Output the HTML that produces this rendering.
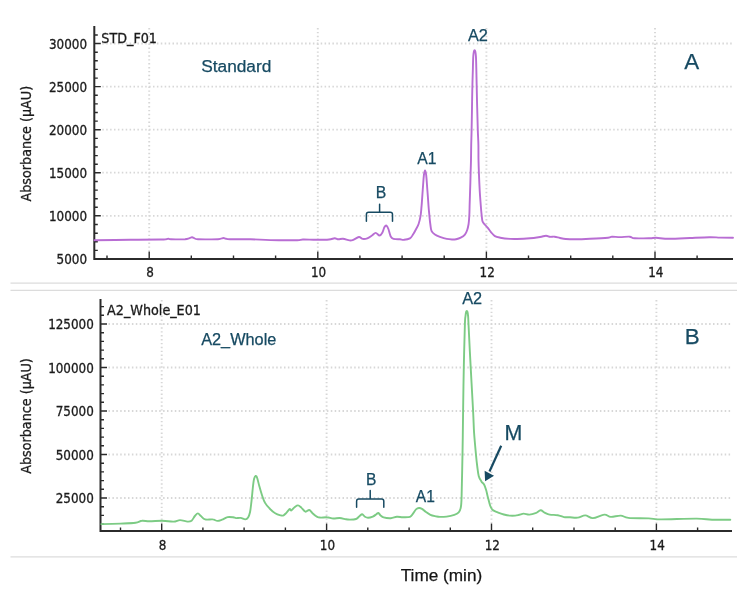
<!DOCTYPE html>
<html lang="en"><head><meta charset="utf-8"><title>Chromatograms</title>
<style>
html,body{margin:0;padding:0;background:#fff;}
body{width:750px;height:591px;overflow:hidden;}
svg{display:block;}
text{font-family:"Liberation Sans", Arial, sans-serif;}
.tk{font-family:"DejaVu Sans Condensed", "DejaVu Sans", "Liberation Sans", sans-serif;font-stretch:condensed;font-size:13.3px;fill:#1b1b1b;stroke:#1b1b1b;stroke-width:.3px;}
.nm{font-family:"DejaVu Sans Condensed", "DejaVu Sans", "Liberation Sans", sans-serif;font-stretch:condensed;font-size:14.2px;fill:#1b1b1b;stroke:#1b1b1b;stroke-width:.3px;}
.an{fill:#174a62;stroke:#174a62;stroke-width:.25px;}
.gh{stroke:#d7d7d7;stroke-width:1.8;stroke-dasharray:1.5 2.4;fill:none;}
.gv{stroke:#d7d7d7;stroke-width:1.9;stroke-dasharray:1.4 2.5;fill:none;}
.ax{stroke:#2b2b2b;stroke-width:2;fill:none;}
.t{stroke:#2a2a2a;stroke-width:1.4;fill:none;}
.sep{stroke:#dcdcdc;stroke-width:1.3;}
.br{stroke:#174a62;stroke-width:1.5;fill:none;stroke-linecap:round;stroke-linejoin:round;}
</style></head><body>
<svg width="750" height="591" viewBox="0 0 750 591">
<rect width="750" height="591" fill="#fff"/>
<line class="sep" x1="10.5" x2="737" y1="283.1" y2="283.1"/>
<line class="sep" x1="10.5" x2="737" y1="290.4" y2="290.4"/>
<line class="sep" x1="10.5" x2="737" y1="556.8" y2="556.8"/>
<line class="gh" x1="102.3" x2="733.0" y1="43.5" y2="43.5"/>
<line class="gh" x1="102.3" x2="733.0" y1="86.6" y2="86.6"/>
<line class="gh" x1="102.3" x2="733.0" y1="129.7" y2="129.7"/>
<line class="gh" x1="102.3" x2="733.0" y1="172.7" y2="172.7"/>
<line class="gh" x1="102.3" x2="733.0" y1="215.8" y2="215.8"/>
<line class="gh" x1="102.3" x2="733.0" y1="258.9" y2="258.9"/>
<line class="gv" x1="149.2" x2="149.2" y1="28.0" y2="251.0"/>
<line class="gv" x1="317.8" x2="317.8" y1="28.0" y2="251.0"/>
<line class="gv" x1="486.4" x2="486.4" y1="28.0" y2="251.0"/>
<line class="gv" x1="655.0" x2="655.0" y1="28.0" y2="251.0"/>
<path class="ax" d="M94.3 26.0V259.0H733.0"/>
<path class="t" d="M94.3 43.5h6.5M94.3 86.6h6.5M94.3 129.7h6.5M94.3 172.7h6.5M94.3 215.8h6.5M94.3 258.9h6.5M94.3 250.4h3.5M94.3 241.8h3.5M94.3 233.2h3.5M94.3 224.5h3.5M94.3 207.3h3.5M94.3 198.7h3.5M94.3 190.1h3.5M94.3 181.5h3.5M94.3 164.2h3.5M94.3 155.6h3.5M94.3 147.0h3.5M94.3 138.4h3.5M94.3 121.1h3.5M94.3 112.5h3.5M94.3 103.9h3.5M94.3 95.3h3.5M94.3 78.1h3.5M94.3 69.4h3.5M94.3 60.8h3.5M94.3 52.2h3.5M94.3 35.0h3.5M149.2 259.0v-7.5M317.8 259.0v-7.5M486.4 259.0v-7.5M655.0 259.0v-7.5M107.0 259.0v-3.5M191.3 259.0v-3.5M233.5 259.0v-3.5M275.6 259.0v-3.5M359.9 259.0v-3.5M402.1 259.0v-3.5M444.2 259.0v-3.5M528.5 259.0v-3.5M570.7 259.0v-3.5M612.8 259.0v-3.5M697.1 259.0v-3.5"/>
<text class="tk" text-anchor="end" x="87.0" y="48.5">30000</text>
<text class="tk" text-anchor="end" x="87.0" y="91.6">25000</text>
<text class="tk" text-anchor="end" x="87.0" y="134.7">20000</text>
<text class="tk" text-anchor="end" x="87.0" y="177.7">15000</text>
<text class="tk" text-anchor="end" x="87.0" y="220.8">10000</text>
<text class="tk" text-anchor="end" x="87.0" y="263.9">5000</text>
<text class="tk" text-anchor="middle" x="150.0" y="277.3">8</text>
<text class="tk" text-anchor="middle" x="318.6" y="277.3">10</text>
<text class="tk" text-anchor="middle" x="487.2" y="277.3">12</text>
<text class="tk" text-anchor="middle" x="655.8" y="277.3">14</text>
<path d="M94.5 240.2C100.4 240.1 119.1 239.9 130.0 239.8C140.9 239.7 154.0 239.6 160.0 239.5C166.0 239.4 164.6 239.5 166.0 239.3C167.4 239.2 167.7 238.6 168.5 238.6C169.3 238.6 168.2 239.2 171.0 239.3C173.8 239.4 182.0 239.3 185.0 239.2C188.0 239.0 187.8 238.7 189.0 238.4C190.2 238.1 191.0 237.2 192.0 237.2C193.0 237.2 194.0 238.2 195.0 238.6C196.0 238.9 194.2 239.2 198.0 239.3C201.8 239.4 214.2 239.3 218.0 239.2C221.8 239.1 220.1 238.8 221.0 238.6C221.9 238.4 222.7 238.0 223.5 238.0C224.3 238.0 224.9 238.6 226.0 238.8C227.1 239.0 226.0 239.2 230.0 239.3C234.0 239.4 245.0 239.2 250.0 239.3C255.0 239.4 255.2 239.4 260.0 239.6C264.8 239.8 272.5 240.1 278.7 240.2C284.9 240.3 293.3 240.3 297.3 240.2C301.3 240.1 299.8 239.6 302.9 239.5C306.0 239.4 311.6 239.8 316.0 239.8C320.4 239.8 325.9 239.8 329.0 239.5C332.1 239.2 333.1 238.3 334.7 238.3C336.3 238.3 337.0 239.2 338.4 239.3C339.8 239.4 341.1 238.5 343.0 238.7C344.9 238.9 347.9 240.2 349.6 240.4C351.3 240.6 351.8 240.4 353.3 239.8C354.9 239.2 357.3 237.2 358.9 237.0C360.5 236.8 361.3 238.7 362.7 238.9C364.1 239.1 365.8 238.9 367.3 238.3C368.9 237.7 370.6 236.4 372.0 235.5C373.4 234.6 374.4 232.9 375.7 232.9C376.9 232.9 378.4 235.5 379.5 235.5C380.6 235.5 381.5 234.1 382.3 232.7C383.1 231.3 383.8 228.3 384.5 227.1C385.2 225.9 385.8 225.3 386.4 225.6C387.0 225.9 387.7 227.2 388.4 229.0C389.1 230.8 389.8 234.8 390.7 236.5C391.6 238.2 391.9 238.4 393.5 238.9C395.1 239.4 398.2 239.2 400.0 239.3C401.8 239.5 402.5 240.0 404.1 239.8C405.8 239.7 408.4 239.3 409.9 238.4C411.4 237.5 412.1 236.0 413.0 234.6C413.9 233.2 414.7 231.8 415.6 230.0C416.5 228.2 417.8 226.4 418.6 224.0C419.4 221.6 420.1 218.7 420.6 215.6C421.1 212.5 421.2 209.9 421.6 205.7C422.0 201.5 422.3 195.6 422.7 190.5C423.1 185.4 423.5 178.5 423.9 175.2C424.3 171.8 424.6 170.4 425.0 170.4C425.4 170.4 425.8 171.8 426.2 175.2C426.6 178.5 427.0 185.4 427.4 190.5C427.8 195.6 428.2 201.5 428.5 205.7C428.8 209.9 429.1 212.5 429.4 215.6C429.7 218.7 429.9 221.5 430.3 224.0C430.7 226.5 430.7 229.0 431.5 230.8C432.3 232.6 433.5 233.6 434.9 234.6C436.3 235.6 437.9 236.2 439.9 236.9C441.9 237.6 444.8 238.5 446.8 238.9C448.8 239.3 450.4 239.4 452.0 239.5C453.6 239.6 454.7 239.5 456.1 239.2C457.6 238.9 459.2 238.5 460.7 237.7C462.2 236.9 463.8 235.9 464.9 234.6C466.0 233.3 466.6 231.8 467.2 230.0C467.8 228.2 468.2 226.4 468.6 224.0C469.0 221.6 469.1 218.7 469.3 215.6C469.5 212.5 469.5 209.9 469.6 205.7C469.7 201.5 469.9 196.0 470.1 190.5C470.3 185.0 470.5 178.0 470.6 172.9C470.8 167.8 470.9 164.7 471.0 160.0C471.1 155.3 471.1 150.0 471.2 145.0C471.3 140.0 471.5 136.2 471.6 130.0C471.7 123.8 471.9 115.2 472.0 108.0C472.1 100.8 472.2 93.2 472.4 86.5C472.5 79.8 472.8 73.1 472.9 68.0C473.0 62.9 473.1 58.8 473.3 56.0C473.5 53.2 473.7 52.5 473.9 51.5C474.1 50.5 474.4 50.2 474.6 50.2C474.8 50.2 475.1 50.5 475.3 51.5C475.5 52.5 475.7 53.2 475.9 56.0C476.1 58.8 476.2 62.9 476.3 68.0C476.4 73.1 476.6 79.8 476.7 86.5C476.8 93.2 477.0 100.8 477.2 108.0C477.4 115.2 477.6 123.8 477.8 130.0C478.0 136.2 478.3 140.0 478.4 145.0C478.5 150.0 478.4 155.3 478.5 160.0C478.6 164.7 478.7 167.8 478.9 172.9C479.1 178.0 479.4 185.0 479.7 190.5C480.0 196.0 480.5 201.5 480.8 205.7C481.1 209.9 481.4 213.1 481.7 215.6C482.0 218.1 482.0 219.5 482.4 220.9C482.8 222.3 483.4 222.8 484.3 224.0C485.2 225.2 486.7 226.4 487.8 227.8C488.9 229.2 489.9 230.9 491.1 232.3C492.3 233.7 493.4 235.2 494.9 236.1C496.4 237.0 497.8 237.2 500.3 237.7C502.8 238.2 507.2 238.7 510.0 238.9C512.8 239.1 513.7 239.1 517.0 239.0C520.3 238.9 526.2 238.6 530.0 238.3C533.8 238.0 537.3 237.4 540.0 237.0C542.7 236.6 544.3 235.7 546.0 235.7C547.7 235.7 548.6 236.6 550.0 236.8C551.4 237.0 552.9 236.5 554.6 236.7C556.3 236.9 558.1 237.6 560.0 238.0C561.9 238.4 563.3 238.8 565.8 239.0C568.3 239.2 571.0 239.3 575.0 239.3C579.0 239.3 584.5 239.1 590.0 238.8C595.5 238.6 604.3 238.2 608.0 237.8C611.7 237.5 610.0 236.8 612.0 236.7C614.0 236.6 617.0 237.1 620.0 237.1C623.0 237.1 627.2 236.5 629.7 236.7C632.2 236.9 631.3 238.1 634.7 238.3C638.1 238.6 646.5 238.3 650.0 238.2C653.5 238.1 652.8 237.7 656.0 237.8C659.2 237.9 663.3 238.8 669.0 238.8C674.7 238.8 683.2 238.3 690.0 238.0C696.8 237.7 704.5 237.3 709.5 237.2C714.5 237.1 716.1 237.5 720.0 237.6C723.9 237.7 730.8 237.7 733.0 237.7" fill="none" stroke="#b86dd3" stroke-width="1.9" stroke-linejoin="round" stroke-linecap="round"/>
<text class="nm" x="101.3" y="43.4">STD_F01</text>
<text class="nm" transform="translate(31.3,143.7) rotate(-90)" text-anchor="middle">Absorbance (µAU)</text>
<text class="an" x="201.2" y="72" style="font-size:17.3px">Standard</text>
<text class="an" x="691.7" y="68.9" text-anchor="middle" style="font-size:22.4px">A</text>
<text class="an" x="467.9" y="40.6" style="font-size:16.3px">A2</text>
<text class="an" x="417.2" y="163.5" style="font-size:15.7px">A1</text>
<text class="an" x="381" y="198" text-anchor="middle" style="font-size:15.8px">B</text>
<path class="br" d="M366.4 221.3v-6.8q0-2.2 2.2-2.2h21.7q2.2 0 2.2 2.2v6.8M379.6 212.3v-8"/>
<line class="gh" x1="108.5" x2="732.0" y1="324.0" y2="324.0"/>
<line class="gh" x1="108.5" x2="732.0" y1="367.5" y2="367.5"/>
<line class="gh" x1="108.5" x2="732.0" y1="411.0" y2="411.0"/>
<line class="gh" x1="108.5" x2="732.0" y1="454.5" y2="454.5"/>
<line class="gh" x1="108.5" x2="732.0" y1="498.0" y2="498.0"/>
<line class="gv" x1="161.7" x2="161.7" y1="300.0" y2="523.0"/>
<line class="gv" x1="326.6" x2="326.6" y1="300.0" y2="523.0"/>
<line class="gv" x1="491.5" x2="491.5" y1="300.0" y2="523.0"/>
<line class="gv" x1="656.4" x2="656.4" y1="300.0" y2="523.0"/>
<path class="ax" d="M100.5 299.0V531.0H732.0"/>
<path class="t" d="M100.5 324.0h6.5M100.5 367.5h6.5M100.5 411.0h6.5M100.5 454.5h6.5M100.5 498.0h6.5M100.5 524.1h3.5M100.5 515.4h3.5M100.5 506.7h3.5M100.5 489.3h3.5M100.5 480.6h3.5M100.5 471.9h3.5M100.5 463.2h3.5M100.5 445.8h3.5M100.5 437.1h3.5M100.5 428.4h3.5M100.5 419.7h3.5M100.5 402.3h3.5M100.5 393.6h3.5M100.5 384.9h3.5M100.5 376.2h3.5M100.5 358.8h3.5M100.5 350.1h3.5M100.5 341.4h3.5M100.5 332.7h3.5M100.5 315.3h3.5M100.5 306.6h3.5M161.7 531.0v-7.5M326.6 531.0v-7.5M491.5 531.0v-7.5M656.4 531.0v-7.5M120.5 531.0v-3.5M202.9 531.0v-3.5M244.1 531.0v-3.5M285.4 531.0v-3.5M367.8 531.0v-3.5M409.1 531.0v-3.5M450.3 531.0v-3.5M532.7 531.0v-3.5M574.0 531.0v-3.5M615.2 531.0v-3.5M697.6 531.0v-3.5"/>
<text class="tk" text-anchor="end" x="93.8" y="329.0">125000</text>
<text class="tk" text-anchor="end" x="93.8" y="372.5">100000</text>
<text class="tk" text-anchor="end" x="93.8" y="416.0">75000</text>
<text class="tk" text-anchor="end" x="93.8" y="459.5">50000</text>
<text class="tk" text-anchor="end" x="93.8" y="503.0">25000</text>
<text class="tk" text-anchor="middle" x="162.5" y="549.9">8</text>
<text class="tk" text-anchor="middle" x="327.4" y="549.9">10</text>
<text class="tk" text-anchor="middle" x="492.3" y="549.9">12</text>
<text class="tk" text-anchor="middle" x="657.2" y="549.9">14</text>
<path d="M101.3 524.1C104.5 524.0 114.6 523.8 120.3 523.6C126.0 523.4 131.9 523.3 135.5 522.8C139.1 522.3 139.6 521.0 141.9 520.8C144.2 520.5 146.1 521.3 149.5 521.3C152.9 521.3 158.1 520.8 162.1 520.8C166.1 520.8 170.5 521.7 173.5 521.6C176.5 521.5 177.7 520.1 180.0 520.1C182.3 520.1 185.6 521.5 187.5 521.6C189.4 521.7 190.4 521.6 191.6 520.7C192.8 519.8 193.8 517.2 194.9 516.0C196.0 514.8 196.9 513.4 197.9 513.4C198.9 513.4 199.7 515.0 200.9 516.0C202.1 517.0 203.2 518.8 205.2 519.4C207.2 520.0 210.7 519.1 212.7 519.4C214.7 519.6 215.8 520.8 217.3 520.9C218.9 521.0 220.3 520.3 222.0 519.7C223.7 519.1 225.7 517.5 227.6 517.1C229.5 516.7 231.8 517.1 233.2 517.3C234.6 517.5 234.8 518.0 236.0 518.1C237.2 518.2 239.1 517.7 240.7 517.9C242.2 518.1 244.1 519.5 245.3 519.4C246.5 519.3 247.3 518.7 248.1 517.5C248.9 516.3 249.4 515.0 250.0 512.3C250.6 509.6 251.0 505.2 251.5 501.1C252.0 497.1 252.4 491.7 252.8 488.0C253.2 484.3 253.6 480.7 254.1 478.7C254.6 476.7 255.1 476.1 255.6 475.9C256.1 475.7 256.5 476.0 257.1 477.7C257.7 479.4 258.5 483.1 259.3 486.1C260.1 489.1 261.2 492.8 262.1 495.5C263.0 498.2 263.6 500.4 264.9 502.6C266.1 504.8 267.9 506.7 269.6 508.5C271.3 510.3 273.3 512.1 275.2 513.2C277.1 514.4 279.4 515.0 280.8 515.4C282.2 515.8 282.7 515.7 283.6 515.3C284.5 514.9 285.4 513.8 286.4 512.8C287.4 511.8 288.8 509.5 289.6 509.1C290.4 508.7 290.5 510.8 291.4 510.4C292.3 510.0 293.7 507.8 294.8 507.0C295.9 506.2 296.9 505.3 298.0 505.4C299.1 505.5 300.1 506.6 301.3 507.6C302.5 508.7 304.1 511.3 305.4 511.7C306.7 512.1 308.0 509.8 309.2 510.0C310.4 510.2 311.2 512.1 312.5 513.2C313.8 514.4 315.8 516.2 317.2 516.9C318.6 517.6 319.1 517.5 320.7 517.6C322.3 517.7 324.9 517.1 327.0 517.3C329.1 517.4 331.2 518.4 333.3 518.5C335.4 518.6 337.6 517.9 339.7 518.0C341.8 518.1 344.3 519.0 346.0 519.3C347.7 519.6 348.3 519.6 350.0 519.6C351.7 519.6 354.4 519.6 356.0 519.0C357.6 518.4 358.6 516.8 359.6 516.0C360.6 515.2 361.3 514.1 362.2 514.2C363.1 514.3 364.0 516.2 365.0 516.8C366.0 517.4 366.7 517.8 368.0 517.8C369.3 517.8 371.4 517.2 372.8 516.6C374.2 516.0 375.5 514.8 376.4 514.2C377.3 513.6 377.7 512.8 378.4 513.0C379.1 513.2 379.7 514.7 380.6 515.4C381.5 516.1 381.9 516.9 383.6 517.4C385.3 517.9 388.6 518.3 390.8 518.2C393.0 518.1 394.8 517.0 396.8 516.8C398.8 516.6 400.6 517.2 402.8 517.2C405.0 517.2 408.3 517.4 410.0 516.8C411.7 516.2 412.0 514.8 413.0 513.6C414.0 512.4 415.0 510.3 416.0 509.4C417.0 508.5 418.0 508.1 419.0 508.0C420.0 507.9 420.9 508.2 422.0 508.8C423.1 509.4 424.2 510.8 425.6 511.8C427.0 512.8 428.6 514.0 430.4 514.8C432.2 515.6 434.8 516.0 436.4 516.4C438.0 516.8 438.3 516.9 440.0 516.9C441.7 516.9 444.2 516.9 446.6 516.6C449.0 516.3 452.3 515.6 454.3 514.9C456.3 514.2 457.6 513.5 458.7 512.3C459.8 511.1 460.2 510.5 460.7 507.9C461.2 505.3 461.3 505.9 461.6 496.9C461.9 487.9 462.2 468.2 462.5 453.9C462.8 439.6 462.9 425.6 463.1 411.2C463.3 396.8 463.5 381.9 463.8 367.4C464.1 352.9 464.6 332.5 464.9 324.0C465.2 315.5 465.3 318.2 465.5 316.2C465.7 314.2 465.9 312.9 466.1 312.0C466.3 311.1 466.6 311.0 466.8 311.0C467.0 311.0 467.3 311.1 467.5 312.0C467.7 312.9 467.9 314.2 468.1 316.2C468.3 318.2 468.1 315.5 468.5 324.0C468.9 332.5 469.9 352.9 470.7 367.4C471.5 381.9 472.5 400.3 473.1 411.2C473.7 422.1 473.6 425.9 474.1 433.0C474.6 440.1 475.4 448.4 475.9 453.9C476.4 459.4 476.7 462.3 477.2 466.0C477.7 469.7 478.0 473.3 478.7 475.9C479.4 478.5 480.5 479.9 481.4 481.4C482.3 482.9 483.4 483.2 484.2 484.7C485.0 486.2 485.6 488.2 486.2 490.2C486.8 492.2 487.1 494.3 487.8 496.9C488.5 499.5 489.4 503.5 490.2 505.7C491.0 507.9 491.6 509.0 492.8 510.1C494.1 511.2 495.9 511.6 497.7 512.3C499.5 513.0 501.8 514.0 503.8 514.5C505.9 515.0 508.1 515.4 510.0 515.6C511.9 515.8 513.7 515.7 515.2 515.6C516.8 515.5 517.9 515.1 519.3 514.8C520.7 514.5 522.0 513.6 523.7 513.6C525.4 513.6 527.4 514.7 529.4 514.6C531.4 514.5 533.6 513.9 535.5 513.2C537.4 512.5 539.1 510.3 540.6 510.2C542.1 510.1 543.1 511.9 544.6 512.6C546.1 513.3 547.5 514.2 549.7 514.6C551.9 515.0 555.4 514.8 557.8 515.2C560.2 515.6 561.9 516.8 563.9 517.1C565.9 517.5 567.7 517.2 570.0 517.3C572.3 517.4 575.2 517.9 577.7 517.6C580.2 517.3 582.8 515.3 585.3 515.4C587.8 515.5 589.7 518.2 592.9 518.1C596.1 518.0 601.3 514.8 604.3 514.6C607.3 514.4 608.0 516.7 610.7 516.9C613.5 517.1 617.8 515.4 620.8 515.6C623.8 515.8 623.8 517.4 628.4 517.9C633.0 518.4 643.2 518.1 648.7 518.4C654.2 518.6 653.3 519.4 661.3 519.4C669.3 519.4 688.3 518.5 696.8 518.6C705.2 518.7 706.4 519.5 712.0 519.7C717.6 519.9 727.2 519.7 730.3 519.7" fill="none" stroke="#7ccb84" stroke-width="1.9" stroke-linejoin="round" stroke-linecap="round"/>
<text class="nm" x="107.1" y="315.3">A2_Whole_E01</text>
<text class="nm" transform="translate(31.3,416) rotate(-90)" text-anchor="middle">Absorbance (µAU)</text>
<text class="an" x="201.2" y="345.2" style="font-size:16.3px">A2_Whole</text>
<text class="an" x="692.2" y="344" text-anchor="middle" style="font-size:22.4px">B</text>
<text class="an" x="462.2" y="303.8" style="font-size:16.3px">A2</text>
<text class="an" x="415.8" y="502" style="font-size:15.6px">A1</text>
<text class="an" x="371.1" y="484.6" text-anchor="middle" style="font-size:15.6px">B</text>
<text class="an" x="513.4" y="439.9" text-anchor="middle" style="font-size:21.4px">M</text>
<path class="br" d="M356.6 507.2v-6q0-2.2 2.2-2.2h22.8q2.2 0 2.2 2.2v6M370.2 499v-8.6"/>
<path d="M501.2 445.8L489.5 471.5" stroke="#174a62" stroke-width="2.2" fill="none"/>
<path d="M485.1 481.2L484.6 470.7L494 475.8Z" fill="#174a62"/>
<text x="441.5" y="580.5" text-anchor="middle" fill="#151515" stroke="#151515" stroke-width=".25" style="font-size:17.2px">Time (min)</text>
</svg>
</body></html>
